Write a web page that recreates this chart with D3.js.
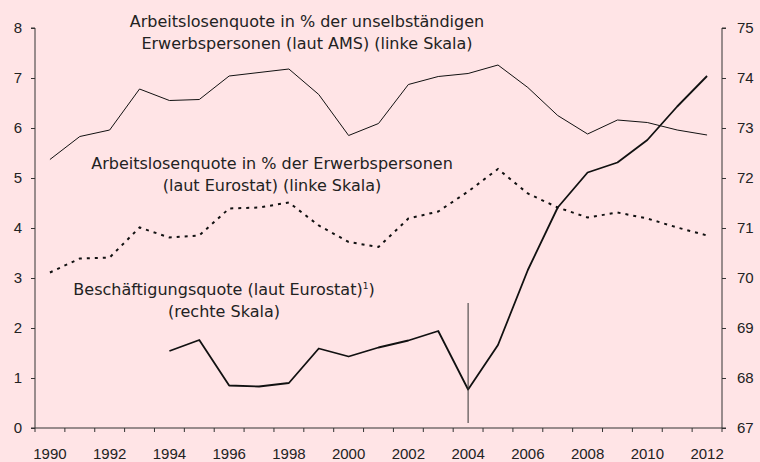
<!DOCTYPE html>
<html>
<head>
<meta charset="utf-8">
<script src="https://cdn.jsdelivr.net/npm/d3@7"></script>
<style>
  html, body { margin: 0; padding: 0; background: #ffe4e6; }
  svg { display: block; font-family: "DejaVu Sans", sans-serif; }
  .num { font-family: "Liberation Sans", sans-serif; font-size: 15px; }
</style>
</head>
<body>
<div id="chart"></div>
<script>
const years = d3.range(1990, 2013);
const yearLabels = years.filter(y => y % 2 === 0);

// Arbeitslosenquote laut AMS (linke Skala)
const amsRate = [5.37, 5.83, 5.96, 6.78, 6.55, 6.57, 7.04, 7.11, 7.18, 6.67, 5.85, 6.09,
    6.87, 7.03, 7.09, 7.26, 6.81, 6.25, 5.88, 6.16, 6.11, 5.96, 5.86];
// Arbeitslosenquote laut Eurostat (linke Skala)
const eurostatRate = [3.11, 3.39, 3.41, 4.01, 3.81, 3.85, 4.39, 4.41, 4.51, 4.05, 3.72, 3.62,
    4.19, 4.33, 4.73, 5.18, 4.69, 4.41, 4.21, 4.31, 4.19, 4.01, 3.85];
// Beschäftigungsquote laut Eurostat (rechte Skala), ab 1994
const employYears = d3.range(1994, 2013);
const employRate = [68.54, 68.76, 67.85, 67.83, 67.9, 68.59, 68.43, 68.61, 68.75, 68.94, 67.77,
    68.66, 70.16, 71.41, 72.11, 72.31, 72.76, 73.43, 74.04];
// Zeitreihenbruch
const breakYear = 2004;
const breakRange = [67.1, 69.5];

const leftTicks = d3.range(0, 9);
const rightTicks = d3.range(67, 76);

const labels = [
    {lines: ["Arbeitslosenquote in % der unselbständigen", "Erwerbspersonen (laut AMS) (linke Skala)"], x: 307, y: 27},
    {lines: ["Arbeitslosenquote in % der Erwerbspersonen", "(laut Eurostat) (linke Skala)"], x: 272, y: 169},
    {lines: ["Beschäftigungsquote (laut Eurostat)", "(rechte Skala)"], x: 224, y: 295, footnote: true}
];

const W = 760, H = 462;
const plot = {left: 35, right: 722, top: 28, bottom: 428};

const svg = d3.select("#chart").append("svg")
    .attr("width", W)
    .attr("height", H);

svg.append("rect").attr("width", W).attr("height", H).attr("fill", "#ffe4e6");

const x = d3.scaleBand().domain(years).range([plot.left, plot.right]).padding(0);
const cx = d => x(d) + x.bandwidth() / 2;
const yL = d3.scaleLinear().domain([0, 8]).range([plot.bottom, plot.top]);
const yR = d3.scaleLinear().domain([67, 75]).range([plot.bottom, plot.top]);

const axisColor = "#333";
const textColor = "#222";

// left axis
const gL = svg.append("g")
    .attr("transform", `translate(${plot.left},0)`)
    .call(d3.axisLeft(yL).tickValues(leftTicks).tickSize(4).tickPadding(9).tickFormat(d3.format("d")));
// right axis
const gR = svg.append("g")
    .attr("transform", `translate(${plot.right},0)`)
    .call(d3.axisRight(yR).tickValues(rightTicks).tickSize(4).tickPadding(11).tickFormat(d3.format("d")));

[gL, gR].forEach(g => {
    g.select(".domain").attr("stroke", axisColor)
        .attr("d", g === gL ? `M-4,${plot.top}H0V${plot.bottom}H-4` : `M4,${plot.top}H0V${plot.bottom}H4`);
    g.selectAll(".tick line").attr("stroke", axisColor);
    g.selectAll(".tick text").attr("fill", textColor).attr("class", "num");
    g.attr("font-family", null).attr("font-size", null);
});

// x axis: ticks at band boundaries, labels every second year
const gX = svg.append("g");
gX.append("line")
    .attr("x1", plot.left).attr("x2", plot.right)
    .attr("y1", plot.bottom).attr("y2", plot.bottom)
    .attr("stroke", axisColor);
const lastYear = years[years.length - 1];
gX.selectAll("line.tick")
    .data(years.concat([lastYear + 1]))
    .join("line")
    .attr("class", "tick")
    .attr("x1", d => d <= lastYear ? x(d) : plot.right)
    .attr("x2", d => d <= lastYear ? x(d) : plot.right)
    .attr("y1", plot.bottom).attr("y2", plot.bottom + 4)
    .attr("stroke", axisColor);
gX.selectAll("text")
    .data(yearLabels)
    .join("text")
    .attr("class", "num")
    .attr("x", cx)
    .attr("y", 459)
    .attr("text-anchor", "middle")
    .attr("fill", textColor)
    .text(d => d);

// lines
const leftLine = d3.line().x((d, i) => cx(years[i])).y(d => yL(d));
svg.append("path")
    .datum(amsRate)
    .attr("d", leftLine)
    .attr("fill", "none")
    .attr("stroke", "#111")
    .attr("stroke-width", 1);

svg.append("path")
    .datum(eurostatRate)
    .attr("d", leftLine)
    .attr("fill", "none")
    .attr("stroke", "#111")
    .attr("stroke-width", 2)
    .attr("stroke-dasharray", "3,5");

const empLine = d3.line().x((d, i) => cx(employYears[i])).y(d => yR(d));
svg.append("path")
    .datum(employRate)
    .attr("d", empLine)
    .attr("fill", "none")
    .attr("stroke", "#111")
    .attr("stroke-width", 1.8)
    .attr("stroke-linejoin", "round");

// break marker
svg.append("line")
    .attr("x1", cx(breakYear)).attr("x2", cx(breakYear))
    .attr("y1", yR(breakRange[0])).attr("y2", yR(breakRange[1]))
    .attr("stroke", "#333")
    .attr("stroke-width", 1);

// series labels
labels.forEach(l => {
    l.lines.forEach((line, i) => {
        const t = svg.append("text")
            .attr("x", l.x)
            .attr("y", l.y + i * 22)
            .attr("text-anchor", "middle")
            .attr("fill", textColor)
            .style("font-size", "16px")
            .text(line);
        if (l.footnote && i === 0) {
            t.append("tspan").attr("dy", -6).style("font-size", "9px").text("1");
            t.append("tspan").attr("dy", 6).text(")");
        }
    });
});
</script>
</body>
</html>
